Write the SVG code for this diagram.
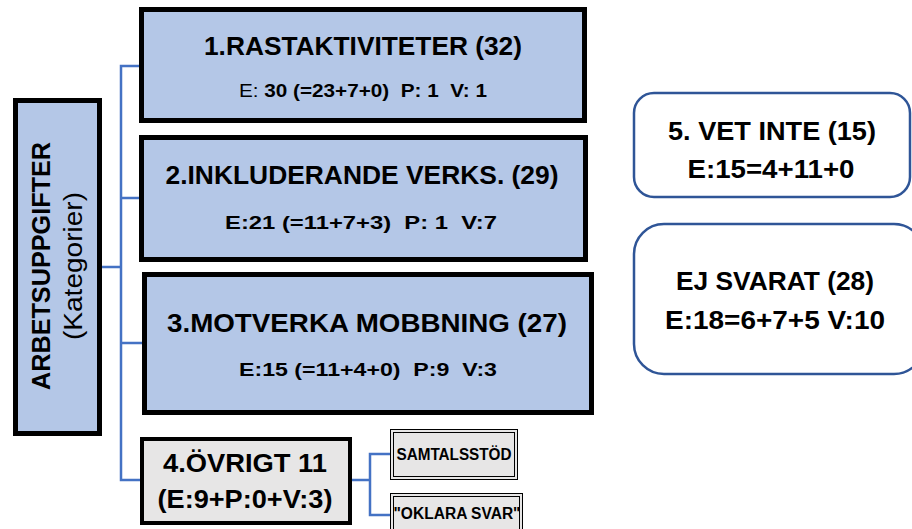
<svg xmlns="http://www.w3.org/2000/svg" width="912" height="529" viewBox="0 0 912 529">
<style>
.main{fill:#B4C7E7;stroke:#000;stroke-width:5}
.gray{fill:#E7E6E6;stroke:#000;stroke-width:4}
.sub{fill:#E7E6E6;stroke:#000;stroke-width:1}
.round{fill:#fff;stroke:#2F5597;stroke-width:2.5}
.t{font-family:"Liberation Sans",Arial,sans-serif;font-weight:bold;fill:#000;text-anchor:middle;white-space:pre}
.r{font-weight:normal}
.conn{fill:none;stroke:#4472C4;stroke-width:2.5}
</style>
<rect width="912" height="529" fill="#fff"/>
<g id="connectors">
<path class="conn" d="M102,267 H121 M141,66 H121 V480 H142 M121,198 H141 M121,343 H144"/>
<path class="conn" d="M350,480 H370 M390,454 H370 V515 H390"/>
</g>
<g id="root">
<rect class="main" x="15.5" y="100.5" width="84" height="333"/>
<text class="t" transform="translate(50,266) rotate(-90)" font-size="26" textLength="248" lengthAdjust="spacingAndGlyphs">ARBETSUPPGIFTER</text>
<text class="t r" transform="translate(82,266) rotate(-90)" font-size="25" textLength="148" lengthAdjust="spacingAndGlyphs">(Kategorier)</text>
</g>
<g id="n1">
<rect class="main" x="141.5" y="9.5" width="443" height="111"/>
<text class="t" x="363" y="55" font-size="26" textLength="318" lengthAdjust="spacingAndGlyphs">1.RASTAKTIVITETER (32)</text>
<text class="t" x="363" y="97" font-size="19" textLength="248" lengthAdjust="spacingAndGlyphs" xml:space="preserve"><tspan class="r">E: </tspan>30 (=23+7+0)  P: 1  V: 1</text>
</g>
<g id="n2">
<rect class="main" x="141.5" y="137.5" width="444" height="122"/>
<text class="t" x="362" y="184" font-size="26" textLength="393" lengthAdjust="spacingAndGlyphs">2.INKLUDERANDE VERKS. (29)</text>
<text class="t" x="361" y="229" font-size="19" textLength="272" lengthAdjust="spacingAndGlyphs" xml:space="preserve">E:21 (=11+7+3)  P: 1  V:7</text>
</g>
<g id="n3">
<rect class="main" x="144.5" y="274.5" width="447" height="138"/>
<text class="t" x="367" y="332" font-size="26" textLength="400" lengthAdjust="spacingAndGlyphs">3.MOTVERKA MOBBNING (27)</text>
<text class="t" x="368" y="376" font-size="19" textLength="258" lengthAdjust="spacingAndGlyphs" xml:space="preserve">E:15 (=11+4+0)  P:9  V:3</text>
</g>
<g id="n4">
<rect class="gray" x="142" y="439" width="208" height="84"/>
<text class="t" x="245" y="472" font-size="26" textLength="164" lengthAdjust="spacingAndGlyphs">4.ÖVRIGT 11</text>
<text class="t" x="245" y="508" font-size="26" textLength="175" lengthAdjust="spacingAndGlyphs">(E:9+P:0+V:3)</text>
</g>
<g id="samtal">
<rect class="sub" x="390.5" y="429.5" width="127" height="50"/>
<rect x="393.5" y="432.5" width="121" height="44" fill="none" stroke="#000" stroke-width="1"/>
<text class="t" x="454" y="460" font-size="16" textLength="115" lengthAdjust="spacingAndGlyphs">SAMTALSSTÖD</text>
</g>
<g id="oklara">
<rect class="sub" x="390.5" y="493.5" width="132" height="50"/>
<rect x="393.5" y="496.5" width="126" height="44" fill="none" stroke="#000" stroke-width="1"/>
<text class="t" x="457" y="519" font-size="16" textLength="127" lengthAdjust="spacingAndGlyphs">"OKLARA SVAR"</text>
</g>
<g id="n5">
<rect class="round" x="634" y="93" width="276" height="104" rx="20"/>
<text class="t" x="772" y="140" font-size="26" textLength="208" lengthAdjust="spacingAndGlyphs">5. VET INTE (15)</text>
<text class="t" x="771" y="178" font-size="26" textLength="167" lengthAdjust="spacingAndGlyphs">E:15=4+11+0</text>
</g>
<g id="ej">
<rect class="round" x="634" y="224" width="290" height="150" rx="30"/>
<text class="t" x="775" y="290" font-size="26" textLength="198" lengthAdjust="spacingAndGlyphs">EJ SVARAT (28)</text>
<text class="t" x="775" y="329" font-size="26" textLength="220" lengthAdjust="spacingAndGlyphs">E:18=6+7+5 V:10</text>
</g>
</svg>
